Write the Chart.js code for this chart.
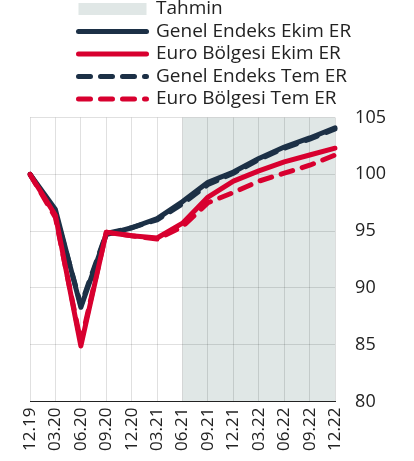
<!DOCTYPE html>
<html>
<head>
<meta charset="utf-8">
<script src="https://cdn.jsdelivr.net/npm/chart.js@4"></script>
<style>
  html, body { margin: 0; padding: 0; background: #fff; }
  #wrap { width: 414px; height: 461px; }
</style>
</head>
<body>
<div id="wrap"><canvas id="chart" width="414" height="461"></canvas></div>
<script>
const labels = ['12.19','03.20','06.20','09.20','12.20','03.21','06.21','09.21','12.21','03.22','06.22','09.22','12.22']
const genelEkim = [100, 96.9, 88.3, 94.7, 95.3, 96.1, 97.6, 99.3, 100.2, 101.4, 102.4, 103.2, 104.1]
const euroEkim = [100, 96.4, 84.9, 94.9, 94.6, 94.4, 95.7, 98.0, 99.4, 100.3, 101.1, 101.7, 102.3]
const genelTem = [100, 96.6, 88.5, 94.8, 95.3, 96.0, 97.4, 99.1, 100.1, 101.3, 102.3, 103.1, 104.0]
const euroTem = [100, 96.2, 85.2, 94.9, 94.6, 94.3, 95.4, 97.5, 98.4, 99.4, 100.1, 100.8, 101.7]
const forecastStart = '06.21'

const navy = '#1c3046'
const red = '#d8002f'
const shade = '#e0e7e6'

// shaded forecast band, drawn before grid
const shadePlugin = {
  id: 'shade',
  beforeDraw(chart) {
    const {ctx, chartArea, scales} = chart
    const x0 = scales.x.getPixelForValue(labels.indexOf(forecastStart))
    ctx.save()
    ctx.fillStyle = shade
    ctx.fillRect(x0, chartArea.top, chartArea.right - x0, chartArea.bottom - chartArea.top)
    ctx.restore()
  }
}

// move the legend block so its rows line up in one column
const legendMove = {
  id: 'legendMove',
  afterUpdate(chart) {
    chart.legend.left = 75
    chart.legend.top = -4
  }
}

function lineItem(text, color, dash) {
  return {
    text: text, fillStyle: color, strokeStyle: color, lineWidth: 5,
    lineDash: dash, lineCap: 'round', pointStyle: 'line', fontColor: '#222'
  }
}

new Chart(document.getElementById('chart'), {
  type: 'line',
  data: {
    labels: labels,
    datasets: [
      { label: 'Genel Endeks Ekim ER', data: genelEkim, borderColor: navy, borderWidth: 5, order: 1 },
      { label: 'Euro Bölgesi Ekim ER', data: euroEkim, borderColor: red, borderWidth: 5, order: 0 },
      { label: 'Genel Endeks Tem ER', data: genelTem, borderColor: navy, borderWidth: 5, borderDash: [12, 10], order: 3 },
      { label: 'Euro Bölgesi Tem ER', data: euroTem, borderColor: red, borderWidth: 5, borderDash: [12, 10], order: 2 }
    ]
  },
  options: {
    responsive: false,
    animation: false,
    layout: { padding: { left: 30, right: 8, top: -5, bottom: 4 } },
    elements: {
      point: { radius: 0 },
      line: { tension: 0, borderCapStyle: 'round', borderJoinStyle: 'round' }
    },
    plugins: {
      tooltip: { enabled: false },
      legend: {
        position: 'top',
        align: 'start',
        labels: {
          usePointStyle: true,
          pointStyleWidth: 68,
          boxHeight: 12,
          padding: 3.5,
          color: '#222',
          font: { family: 'Open Sans', size: 19 },
          generateLabels() {
            return [
              { text: 'Tahmin', fillStyle: shade, strokeStyle: shade, lineWidth: 0, pointStyle: 'rect', fontColor: '#222' },
              lineItem('Genel Endeks Ekim ER', navy, []),
              lineItem('Euro Bölgesi Ekim ER', red, []),
              lineItem('Genel Endeks Tem ER', navy, [12, 10]),
              lineItem('Euro Bölgesi Tem ER', red, [12, 10])
            ]
          }
        }
      }
    },
    scales: {
      x: {
        offset: false,
        grid: { color: 'rgba(0,0,0,0.12)', drawTicks: false },
        border: { color: '#222', width: 1 },
        ticks: {
          color: '#222', font: { family: 'Open Sans', size: 17 },
          maxRotation: 90, minRotation: 90, autoSkip: false, padding: 6
        }
      },
      y: {
        position: 'right',
        min: 80, max: 105,
        grid: { color: 'rgba(0,0,0,0.12)', drawTicks: false },
        border: { display: false },
        ticks: {
          stepSize: 5, color: '#222', font: { family: 'Open Sans', size: 18 }, padding: 20
        }
      }
    }
  },
  plugins: [shadePlugin, legendMove]
})
</script>
</body>
</html>
